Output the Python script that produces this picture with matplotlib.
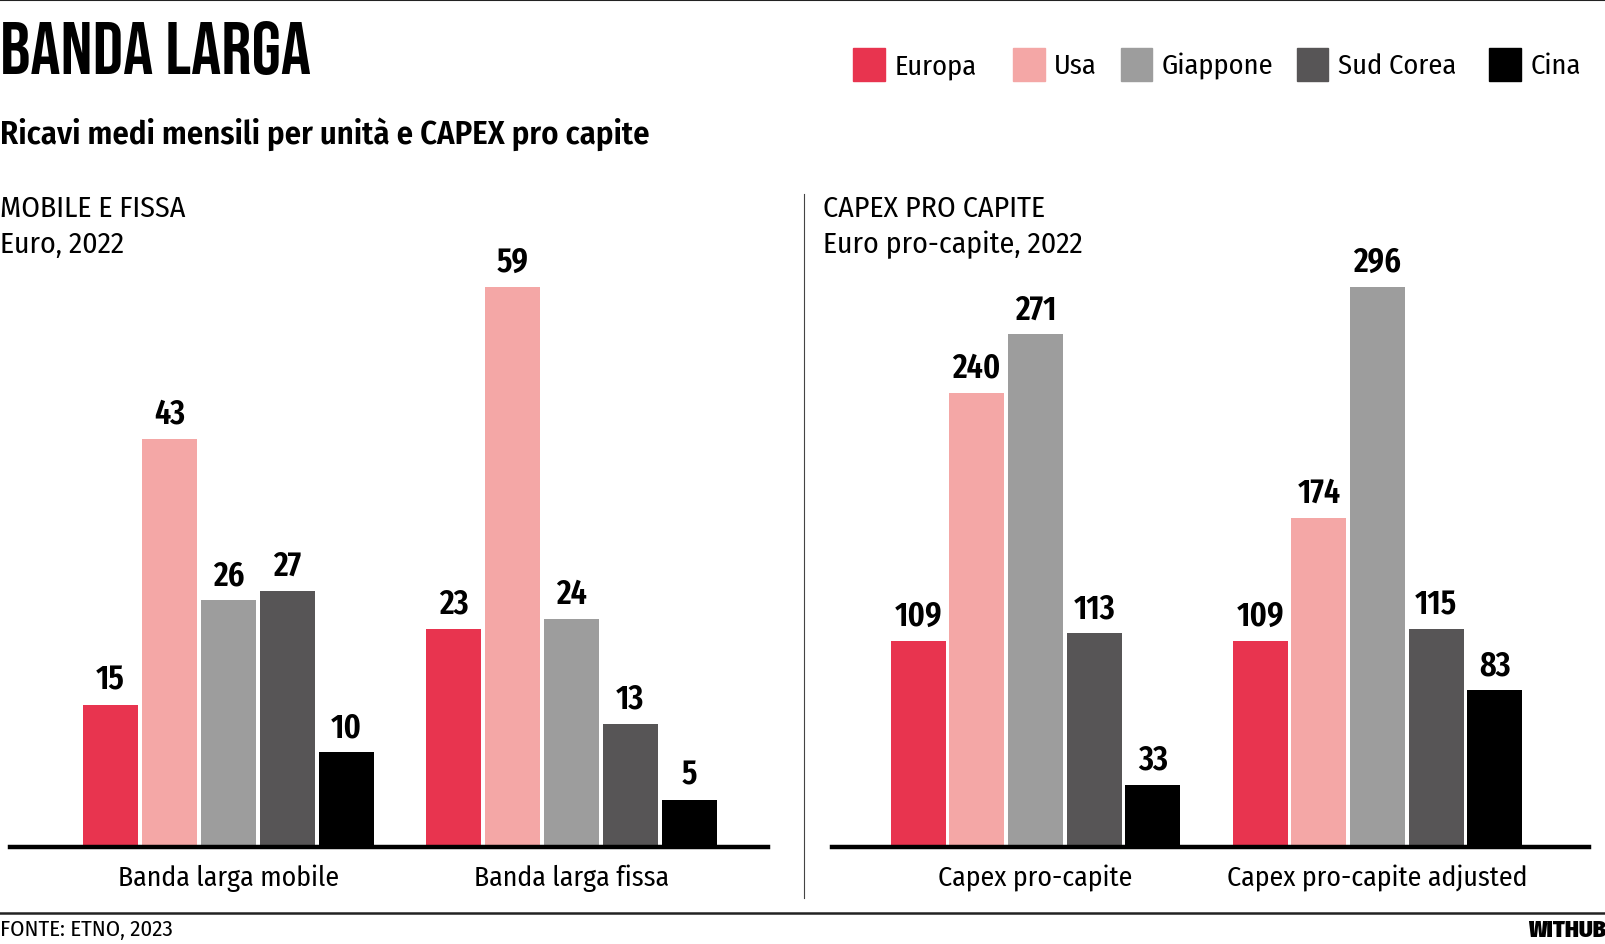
import numpy as np
import matplotlib
matplotlib.use("Agg")
import matplotlib.pyplot as plt

REG = dict(family=["Fira Sans Condensed", "Open Sans", "DejaVu Sans"],
           stretch="condensed", weight="normal")
BOLD = dict(family=["Fira Sans Condensed SemiBold", "Fira Sans Condensed", "Open Sans Condensed", "DejaVu Sans"],
            stretch="condensed", weight="semibold")
NUM = dict(family=["Fira Sans Extra Condensed SemiBold", "Fira Sans Extra Condensed",
                   "Fira Sans Condensed", "DejaVu Sans"],
           stretch="extra-condensed", weight="semibold")
BLACK = dict(family=["Fira Sans Condensed Black", "Fira Sans Condensed", "DejaVu Sans"],
             stretch="condensed", weight="black")
TITLE = dict(family=["Bebas Neue", "Oswald", "DejaVu Sans"], weight="bold")

countries = ["Europa", "Usa", "Giappone", "Sud Corea", "Cina"]
colors = ["#e8344f", "#f4a7a6", "#9d9d9d", "#575556", "#000000"]

left_groups = ["Banda larga mobile", "Banda larga fissa"]
left_values = {
    "Europa": [15, 23],
    "Usa": [43, 59],
    "Giappone": [26, 24],
    "Sud Corea": [27, 13],
    "Cina": [10, 5],
}

right_groups = ["Capex pro-capite", "Capex pro-capite adjusted"]
right_values = {
    "Europa": [109, 109],
    "Usa": [240, 174],
    "Giappone": [271, 296],
    "Sud Corea": [113, 115],
    "Cina": [33, 83],
}

W, H = 1606, 945
S = 1606 / 1568  # layout measured on a 1568 px wide view
fig = plt.figure(figsize=(W / 100, H / 100), dpi=100)


def fx(x):
    return x * S / W


def fy(y):
    return 1 - y * S / H


def px_rect(x0, y_top, x1, y_bottom):
    return [fx(x0), fy(y_bottom), fx(x1) - fx(x0), fy(y_top) - fy(y_bottom)]


def panel(rect, groups, values, xlim):
    ax = fig.add_axes(rect)
    x = np.arange(len(groups))
    step = 0.1716
    width = 0.161
    vmax = max(max(v) for v in values.values())
    for i, c in enumerate(countries):
        bars = ax.bar(x + (i - 2) * step, values[c], width, color=colors[i])
        ax.bar_label(bars, padding=6, fontsize=25, **NUM)
    ax.set_xlim(*xlim)
    ax.set_ylim(0, vmax * 578 / 547)
    ax.axhline(0, color="black", lw=3.2, clip_on=False)
    for s in ax.spines.values():
        s.set_visible(False)
    ax.set_yticks([])
    ax.set_xticks(x, groups, fontsize=20, **REG)
    ax.tick_params(axis="x", length=0, pad=12)
    return ax


panel(px_rect(10, 250, 750, 828), left_groups, left_values, (-0.636, 1.573))
panel(px_rect(812, 250, 1551, 828), right_groups, right_values, (-0.596, 1.617))

# titles
fig.text(0, fy(47), "BANDA LARGA", fontsize=54, va="center", ha="left", **TITLE)
fig.text(0, fy(131), "Ricavi medi mensili per unità e CAPEX pro capite",
         fontsize=23.5, va="center", ha="left", **BOLD)
fig.text(0, fy(204), "MOBILE E FISSA", fontsize=21.5, va="center", ha="left", **REG)
fig.text(0, fy(239), "Euro, 2022", fontsize=21.5, va="center", ha="left", **REG)
fig.text(fx(804), fy(204), "CAPEX PRO CAPITE", fontsize=21.5, va="center", ha="left", **REG)
fig.text(fx(804), fy(239), "Euro pro-capite, 2022", fontsize=21.5, va="center", ha="left", **REG)

# legend
leg_x = [833, 989, 1094, 1266, 1454]
for lx, c, col in zip(leg_x, countries, colors):
    fig.patches.append(plt.Rectangle((fx(lx), fy(80)), fx(31), 32 * S / H,
                                     transform=fig.transFigure, color=col))
    fig.text(fx(lx + 40), fy(65), c, fontsize=20.5, va="center", ha="left", **REG)

# lines
fig.add_artist(plt.Line2D([0, 1], [fy(1), fy(1)], color="#222222", lw=1.5))
fig.add_artist(plt.Line2D([0, 1], [fy(892), fy(892)], color="#222222", lw=1.8))
fig.add_artist(plt.Line2D([fx(785), fx(785)], [fy(190), fy(878)], color="#444444", lw=0.8))

# footer
fig.text(0, fy(908), "FONTE: ETNO, 2023", fontsize=16.5, va="center", ha="left", **REG)
fig.text(1, fy(908), "WITHUB", fontsize=17, va="center", ha="right", **BLACK)

fig.savefig("out.png", dpi=100, facecolor="white")
